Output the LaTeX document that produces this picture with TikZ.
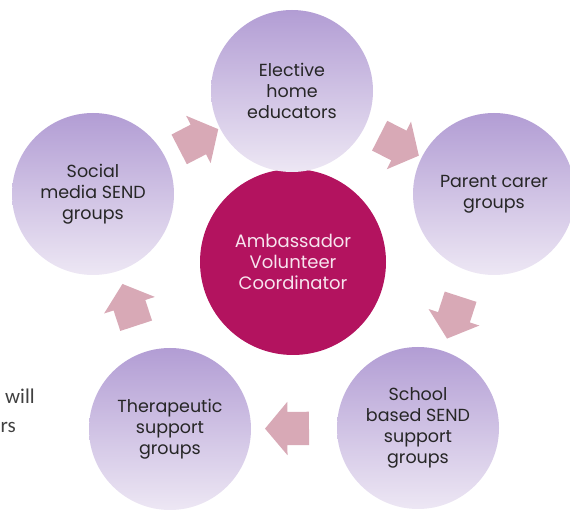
\documentclass[tikz,border=0pt]{standalone}
\usepackage{fontspec}
\setmainfont{Poppins}
\newfontfamily\slidefont{Carlito}
\usetikzlibrary{shapes.arrows}
\definecolor{lavender}{RGB}{178,157,212}
\definecolor{lavenderlight}{RGB}{237,231,244}
\definecolor{hubmagenta}{RGB}{179,19,95}
\definecolor{hubtext}{RGB}{247,228,238}
\definecolor{arrowpink}{RGB}{216,169,182}
\definecolor{textgrey}{RGB}{38,38,38}
\definecolor{slidegrey}{RGB}{64,64,64}

\begin{document}
\begin{tikzpicture}[x=1pt, y=1pt,
    group/.style={circle, minimum size=162pt, inner sep=0pt, align=center,
        top color=lavender, bottom color=lavenderlight, text=textgrey,
        font=\fontsize{17.5}{21}\selectfont},
    hub/.style={circle, minimum size=186pt, inner sep=0pt, align=center,
        fill=hubmagenta, text=hubtext, font=\fontsize{18}{21}\selectfont},
    cyclearrow/.style={single arrow, fill=arrowpink, inner xsep=0pt, inner ysep=16.5pt,
        single arrow head extend=10pt, single arrow tip angle=100, minimum height=44pt},
    slidetext/.style={inner sep=0pt, text=slidegrey, font=\slidefont\fontsize{21}{25}\selectfont}]
    \clip (0,0) rectangle (570,509);

    % Cut-off slide text at the left edge
    \node[slidetext, anchor=base west] (will) at (5,106) {will};
    \node[slidetext, anchor=base east] (rs) at (16,77) {rs};
    \node[slidetext, anchor=base west] (ne) at (4,-12) {ne};

    % Coordinator in the middle
    \node[hub] (hub) at (293,247) {Ambassador\\Volunteer\\Coordinator};

    % Groups round the coordinator
    \node[group] (elective) at (292,418) {Elective\\home\\educators};
    \node[group] (parent) at (494,315) {Parent carer\\groups};
    \node[group] (school) at (418,81) {School\\based SEND\\support\\groups};
    \node[group] (therapy) at (170,80) {Therapeutic\\support\\groups};
    \node[group] (social) at (93,315) {Social\\media SEND\\groups};

    % Block arrows of the cycle
    \foreach \from/\to in {social/elective, elective/parent, parent/school, school/therapy, therapy/social} {
        \path (\from) -- node[cyclearrow, sloped, allow upside down] {} (\to);
    }
\end{tikzpicture}
\end{document}
